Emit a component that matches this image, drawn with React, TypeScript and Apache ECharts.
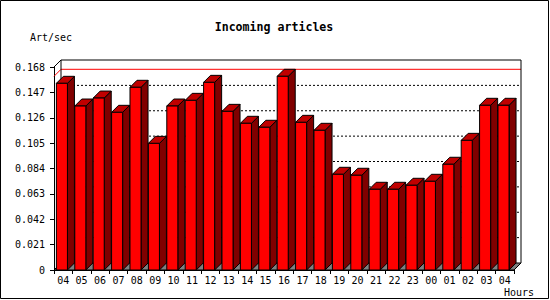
import React, { useEffect, useRef } from "react";
import * as echarts from "echarts";

const hours = ["04","05","06","07","08","09","10","11","12","13","14","15","16","17","18","19","20","21","22","23","00","01","02","03","04"];
const artPerSec = [0.1545,0.1357,0.1423,0.1305,0.1512,0.1048,0.1357,0.1404,0.1553,0.1313,0.1214,0.1181,0.1603,0.1222,0.1156,0.0792,0.0784,0.0668,0.0668,0.0701,0.0734,0.0875,0.1073,0.1363,0.1363];
const yTicks = [0, 0.021, 0.042, 0.063, 0.084, 0.105, 0.126, 0.147, 0.168];
const yMin = 0;
const yMax = 0.168;
const yStep = 0.021;
const titleText = "Incoming articles";
const yName = "Art/sec";
const xName = "Hours";

const D = 7;
const MONO = "'DejaVu Sans Mono', 'Liberation Mono', monospace";

export default function App() {
  const ref = useRef<HTMLDivElement>(null);
  useEffect(() => {
    if (!ref.current) return;
    const chart = echarts.init(ref.current, null, { renderer: "svg" });
    const maxVal = Math.max(...artPerSec);
    const option: any = {
      animation: false,
      backgroundColor: "#ffffff",
      grid: { left: 54, top: 67, width: 460, height: 203, containLabel: false },
      xAxis: {
        type: "category",
        data: hours,
        boundaryGap: true,
        axisLine: { show: true, lineStyle: { color: "#000", width: 1 } },
        axisTick: { show: true, length: 4, alignWithLabel: false, interval: 0, lineStyle: { color: "#000" } },
        axisLabel: { interval: 0, color: "#000", fontSize: 10, fontFamily: MONO, margin: 5 },
        splitLine: { show: false },
      },
      yAxis: {
        type: "value",
        min: yMin,
        max: yMax,
        interval: yStep,
        axisLine: { show: true, lineStyle: { color: "#000", width: 1 } },
        axisTick: { show: true, length: 4, lineStyle: { color: "#000" } },
        axisLabel: {
          color: "#000",
          fontSize: 10,
          fontFamily: MONO,
          margin: 9,
          formatter: (v: number) => (Math.abs(v) < 1e-9 ? "0" : v.toFixed(3)),
        },
        splitLine: { show: false },
      },
      graphic: [
        {
          type: "rect",
          shape: { x: 0.5, y: 0.5, width: 548, height: 298 },
          style: { fill: "none", stroke: "#000", lineWidth: 1 },
          z: 100,
        },
        {
          type: "text",
          x: 274,
          y: 27,
          style: {
            text: titleText,
            fill: "#000",
            font: `bold 11.6px ${MONO}`,
            textAlign: "center",
            textVerticalAlign: "middle",
          },
        },
        {
          type: "text",
          x: 30,
          y: 37,
          style: { text: yName, fill: "#000", font: `10px ${MONO}`, textAlign: "left", textVerticalAlign: "middle" },
        },
        {
          type: "text",
          x: 504,
          y: 292,
          style: { text: xName, fill: "#000", font: `10px ${MONO}`, textAlign: "left", textVerticalAlign: "middle" },
        },
      ],
      series: [
        {
          type: "custom",
          silent: true,
          clip: false,
          z: 1,
          data: [[0, 0]],
          renderItem: (params: any, api: any) => {
            const cs = params.coordSys;
            const L = cs.x, T = cs.y, R = cs.x + cs.width, B = cs.y + cs.height;
            const children: any[] = [];
            // floor
            children.push({
              type: "polygon",
              shape: { points: [[L, B], [R, B], [R + D, B - D], [L + D, B - D]] },
              style: { fill: "#808080", stroke: "#000", lineWidth: 1 },
            });
            // grid lines on back wall
            yTicks.forEach((t) => {
              if (t <= yMin || t >= yMax) return;
              const y = api.coord([0, t])[1] - D;
              children.push({
                type: "line",
                shape: { x1: L + D, y1: y, x2: R + D, y2: y },
                style: { stroke: "#000", lineWidth: 1, lineDash: [2, 2] },
              });
            });
            // max line (red)
            const ym = api.coord([0, maxVal])[1];
            children.push({
              type: "polyline",
              shape: { points: [[L, ym], [L + D, ym - D], [R + D, ym - D]] },
              style: { stroke: "#ff0000", lineWidth: 1, fill: "none" },
            });
            // back frame
            children.push({
              type: "polyline",
              shape: { points: [[L, T], [L + D, T - D], [R + D, T - D], [R + D, B - D]] },
              style: { stroke: "#000", lineWidth: 1, fill: "none" },
            });
            children.push({
              type: "line",
              shape: { x1: L + D, y1: T - D, x2: L + D, y2: B - D },
              style: { stroke: "#000", lineWidth: 1 },
            });
            return { type: "group", children };
          },
        },
        {
          type: "custom",
          silent: true,
          clip: false,
          z: 2,
          data: artPerSec.map((v, i) => [i, v]),
          renderItem: (params: any, api: any) => {
            const idx = api.value(0);
            const v = api.value(1);
            const top = api.coord([idx, v]);
            const base = api.coord([idx, 0]);
            const bw = api.size([1, 0])[0];
            const x0 = top[0] - bw / 2 + bw * 0.13;
            const w = bw * 0.6;
            const x1 = x0 + w;
            const yT = top[1];
            const yB = base[1];
            return {
              type: "group",
              children: [
                {
                  type: "polygon",
                  shape: { points: [[x1, yT], [x1 + D, yT - D], [x1 + D, yB - D], [x1, yB]] },
                  style: { fill: "#800000", stroke: "#000", lineWidth: 1 },
                },
                {
                  type: "polygon",
                  shape: { points: [[x0, yT], [x1, yT], [x1 + D, yT - D], [x0 + D, yT - D]] },
                  style: { fill: "#c00000", stroke: "#000", lineWidth: 1 },
                },
                {
                  type: "rect",
                  shape: { x: x0, y: yT, width: w, height: yB - yT },
                  style: { fill: "#ff0000", stroke: "#000", lineWidth: 1 },
                },
              ],
            };
          },
        },
      ],
    };
    chart.setOption(option);
    return () => chart.dispose();
  }, []);
  return (
    <div
      ref={ref}
      style={{ position: "fixed", left: 0, top: 0, width: 550, height: 300, background: "#fff" }}
    />
  );
}
